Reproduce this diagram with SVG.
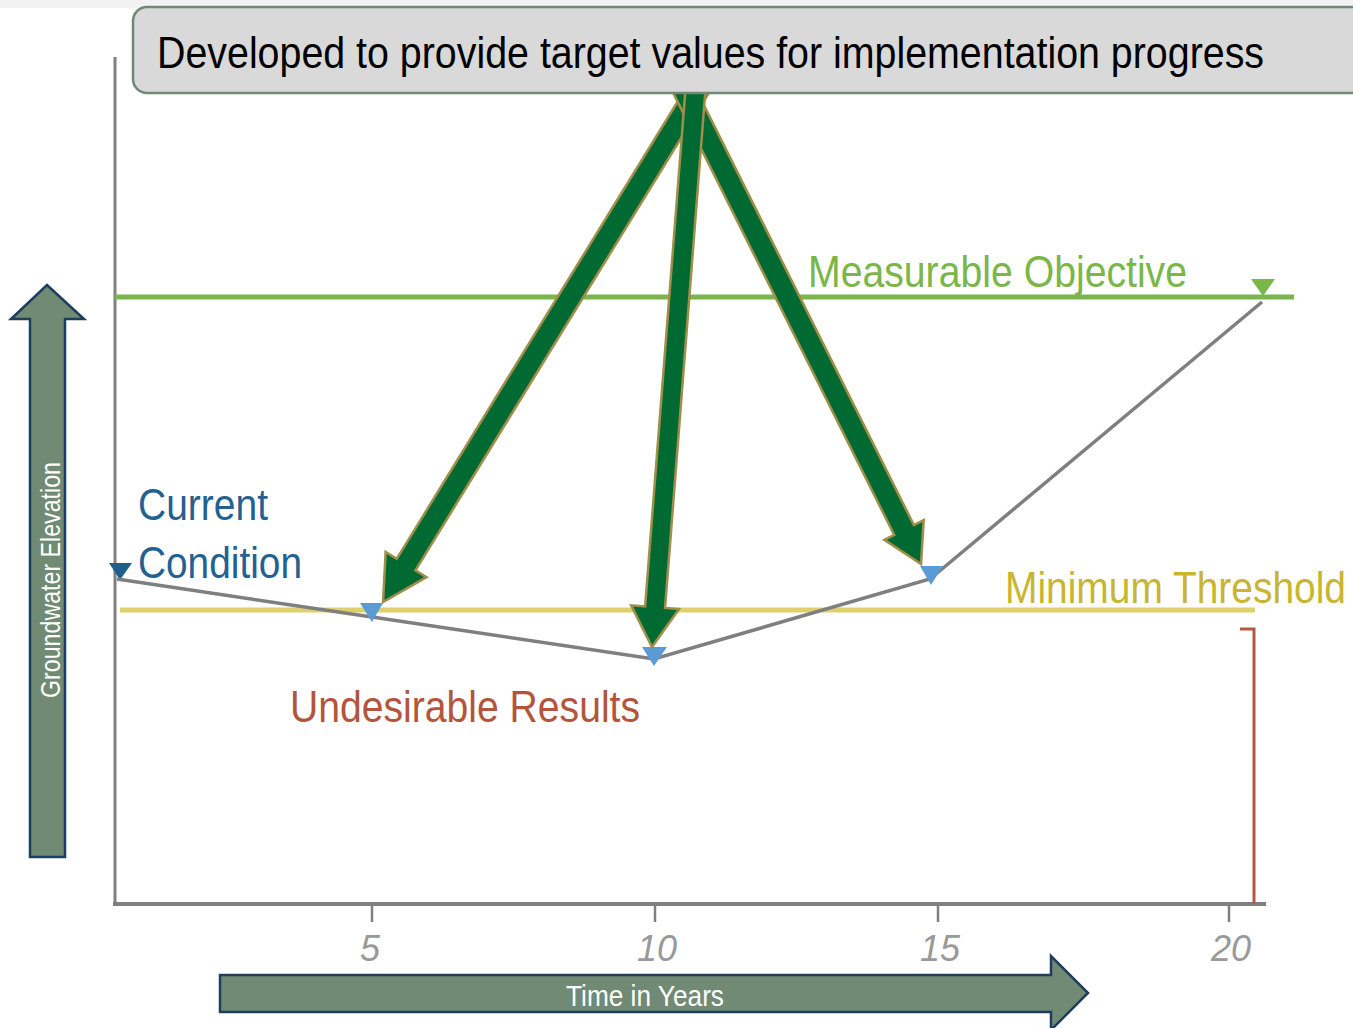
<svg xmlns="http://www.w3.org/2000/svg" width="1353" height="1028" viewBox="0 0 1353 1028">
<style>
.t{font-family:"Liberation Sans Narrow","Liberation Sans",Arial,sans-serif;}
.big{font-size:45px;}
.tick{font-family:"Liberation Sans","DejaVu Sans",sans-serif;font-style:italic;font-size:36px;fill:#999999;text-anchor:middle;}
.garrow{fill:#006a32;stroke:#a08f4a;stroke-width:2.5;stroke-linejoin:miter;}
.blockarrow{fill:#718a74;stroke:#1f3d5c;stroke-width:2.5;}
.tri{fill:#5b9bd5;}
</style>
<rect x="0" y="0" width="1353" height="1028" fill="#ffffff"/>
<rect x="0" y="0" width="1353" height="8" fill="#f2f2f2"/>

<g id="axes">
  <line x1="115" y1="57" x2="115" y2="905" stroke="#808080" stroke-width="3"/>
  <line x1="113" y1="904" x2="1266" y2="904" stroke="#808080" stroke-width="4"/>
  <g stroke="#808080" stroke-width="2.5">
    <line x1="372" y1="904" x2="372" y2="922"/>
    <line x1="655" y1="904" x2="655" y2="922"/>
    <line x1="938" y1="904" x2="938" y2="922"/>
    <line x1="1229" y1="904" x2="1229" y2="922"/>
  </g>
  <text class="tick" x="370" y="961">5</text>
  <text class="tick" x="657" y="961">10</text>
  <text class="tick" x="940" y="961">15</text>
  <text class="tick" x="1231" y="961">20</text>
</g>

<g id="measurable-objective">
  <line x1="115" y1="297" x2="1294" y2="297" stroke="#7ab648" stroke-width="5"/>
  <text class="t big" x="808" y="287" fill="#7ab648" textLength="379" lengthAdjust="spacingAndGlyphs">Measurable Objective</text>
  <polygon points="1251,279 1275,279 1263,296" fill="#7ab648"/>
</g>

<g id="minimum-threshold">
  <line x1="120" y1="610" x2="1255" y2="610" stroke="#dfd06e" stroke-width="5"/>
  <text class="t big" x="1005" y="603" fill="#c8b530" textLength="341" lengthAdjust="spacingAndGlyphs">Minimum Threshold</text>
</g>

<g id="undesirable-results">
  <polyline points="1240,629 1254,629 1254,904" fill="none" stroke="#b55a40" stroke-width="3"/>
  <text class="t big" x="290" y="722" fill="#b3553c" textLength="350" lengthAdjust="spacingAndGlyphs">Undesirable Results</text>
</g>

<g id="current-condition">
  <text class="t big" x="138" y="520" fill="#236192" textLength="130" lengthAdjust="spacingAndGlyphs">Current</text>
  <text class="t big" x="138" y="578" fill="#236192" textLength="164" lengthAdjust="spacingAndGlyphs">Condition</text>
  <polygon points="109,563 132,563 120,580" fill="#1f5f8b"/>
</g>

<g id="hydrograph">
  <polyline points="117,579 372,617 654,659 930,579 1262,302" fill="none" stroke="#7f7f7f" stroke-width="3.5"/>
  <polygon class="tri" points="360,603 383,603 372,622"/>
  <polygon class="tri" points="642,647 667,647 654,666"/>
  <polygon class="tri" points="920,566 943,566 931,585"/>
</g>

<g id="groundwater-elevation">
  <polygon class="blockarrow" points="30,857 65,857 65,319 84,319 47,285 11,319 30,319"/>
  <text class="t" x="0" y="0" transform="translate(60,580) rotate(-90)" font-size="28" fill="#ffffff" text-anchor="middle" textLength="236" lengthAdjust="spacingAndGlyphs">Groundwater Elevation</text>
</g>

<g id="time-in-years">
  <polygon class="blockarrow" points="220,975 1051,975 1051,956 1088,993 1051,1030 1051,1012 220,1012"/>
  <text class="t" x="645" y="1006" font-size="30" fill="#ffffff" text-anchor="middle" textLength="158" lengthAdjust="spacingAndGlyphs">Time in Years</text>
</g>

<g id="connectors">
  <path class="garrow" d="M0,-11 H580.5 V-24 L624.5,0 L580.5,24 V11 H0 Z" transform="translate(710,70) rotate(121.57)"/>
  <path class="garrow" d="M0,-11 H514.3 V-22 L552.3,0 L514.3,22 V11 H0 Z" transform="translate(674,70) rotate(63.43)"/>
  <path class="garrow" d="M0,-10 H538.8 V-24 L578.8,0 L538.8,24 V10 H0 Z" transform="translate(697,70) rotate(94.46)"/>
</g>

<g id="banner">
  <rect x="133" y="7" width="1240" height="86" rx="14" ry="14" fill="#d9d9d9" stroke="#6f8a74" stroke-width="2.5"/>
  <text class="t big" x="157" y="68" fill="#000000" textLength="1107" lengthAdjust="spacingAndGlyphs">Developed to provide target values for implementation progress</text>
</g>
</svg>
